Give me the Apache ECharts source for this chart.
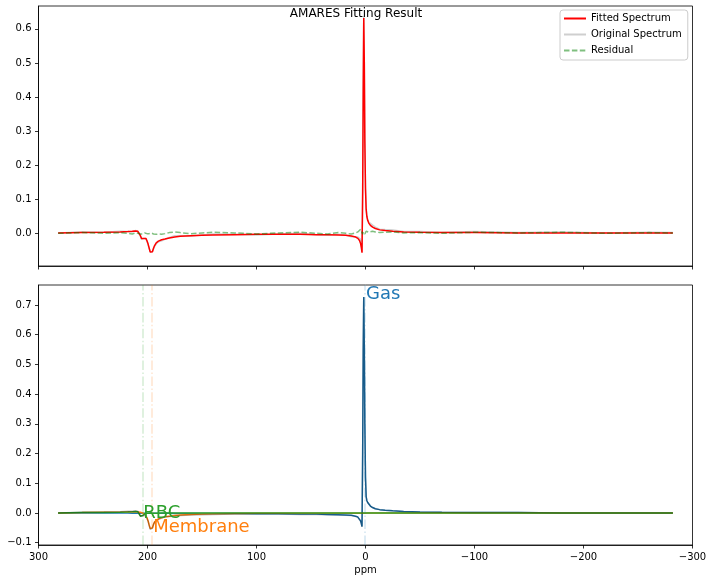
<!DOCTYPE html>
<html>
<head>
<meta charset="utf-8">
<script src="https://cdn.jsdelivr.net/npm/echarts@6/dist/echarts.min.js"></script>
<style>
html,body{margin:0;padding:0;background:#fff;}
#chart{width:712px;height:582px;}
</style>
</head>
<body>
<div id="chart"></div>
<script>
// ---- data ----
const ppm = [282, 260, 240, 225, 218, 214, 211, 209,
  207.5, 206.5, 205.5, 204.5, 203.5, 202.5, 201.5, 200.5,
  199.5, 198.5, 197.5, 196.5, 195.5, 194.5, 193.5, 192,
  190, 187, 184, 180, 175, 170, 160, 150,
  140, 120, 100, 80, 60, 45, 35, 25,
  18, 13, 9, 7, 5.5, 4.5, 3.8, 3.2,
  2.6, 2.1, 1.6, 1.1, 0.6, 0, -0.6, -1.2,
  -2, -3, -4.5, -6.5, -9, -13, -18, -25,
  -35, -50, -70, -100, -140, -180, -220, -260, -282];

const fitted = [0.001, 0.002, 0.003, 0.004, 0.005, 0.006, 0.007, 0.006,
  0.001, -0.007, -0.015, -0.018, -0.015, -0.013, -0.015, -0.022,
  -0.031, -0.043, -0.055, -0.059, -0.054, -0.044, -0.036, -0.028,
  -0.023, -0.019, -0.017, -0.014, -0.011, -0.009, -0.007, -0.006,
  -0.005, -0.004, -0.003, -0.003, -0.003, -0.004, -0.004, -0.005,
  -0.006, -0.008, -0.011, -0.015, -0.021, -0.030, -0.042, -0.057,
  0.12, 0.42, 0.632, 0.50, 0.27, 0.13, 0.07, 0.05,
  0.038, 0.03, 0.023, 0.018, 0.014, 0.010, 0.008, 0.006,
  0.004, 0.003, 0.002, 0.002, 0.001, 0.001, 0.001, 0.001, 0.001];

const original = [0.001, 0.004, 0.003, 0.006, 0.005, 0.004, 0.008, 0.006,
  0.000, -0.009, -0.018, -0.020, -0.015, -0.012, -0.015, -0.023,
  -0.033, -0.044, -0.055, -0.058, -0.054, -0.046, -0.039, -0.031,
  -0.025, -0.022, -0.018, -0.012, -0.007, -0.007, -0.008, -0.005,
  -0.002, -0.003, -0.005, -0.002, 0.000, -0.004, -0.006, -0.003,
  -0.006, -0.010, -0.010, -0.011, -0.013, -0.018, -0.036, -0.055,
  0.117, 0.424, 0.638, 0.502, 0.268, 0.133, 0.076, 0.054,
  0.040, 0.033, 0.028, 0.024, 0.018, 0.012, 0.011, 0.010,
  0.005, 0.005, 0.002, 0.005, 0.002, 0.004, 0.001, 0.003, 0.002];

const residual = [0.000, 0.002, 0.000, 0.002, 0.000, -0.002, 0.001, 0.000,
  -0.001, -0.002, -0.003, -0.002, 0.000, 0.001, 0.000, -0.001,
  -0.002, -0.001, 0.000, 0.001, 0.000, -0.002, -0.003, -0.003,
  -0.002, -0.003, -0.001, 0.002, 0.004, 0.002, -0.001, 0.001,
  0.003, 0.001, -0.002, 0.001, 0.003, 0.000, -0.002, 0.002,
  0.000, -0.002, 0.001, 0.004, 0.008, 0.012, 0.006, 0.002,
  -0.003, 0.004, 0.006, 0.002, -0.002, 0.003, 0.006, 0.004,
  0.002, 0.003, 0.005, 0.006, 0.004, 0.002, 0.003, 0.004,
  0.001, 0.002, 0.000, 0.003, 0.001, 0.003, 0.000, 0.002, 0.001];

const gas = [0.000, 0.000, 0.000, 0.000, 0.000, -0.001, -0.001, -0.001,
  -0.001, -0.001, -0.001, -0.001, -0.001, -0.001, -0.001, -0.001,
  -0.001, -0.001, -0.001, -0.001, -0.001, -0.001, -0.001, -0.001,
  -0.001, -0.001, -0.001, -0.001, -0.002, -0.002, -0.002, -0.002,
  -0.002, -0.002, -0.003, -0.003, -0.004, -0.004, -0.005, -0.006,
  -0.007, -0.008, -0.011, -0.014, -0.019, -0.027, -0.036, -0.046,
  0.20, 0.55, 0.727, 0.55, 0.30, 0.12, 0.055, 0.042,
  0.035, 0.029, 0.023, 0.018, 0.014, 0.011, 0.009, 0.007,
  0.005, 0.003, 0.002, 0.001, 0.001, 0.000, 0.000, 0.000, 0.000];

const rbc = [0.000, 0.001, 0.001, 0.002, 0.003, 0.004, 0.005, 0.004,
  -0.002, -0.011, -0.014, -0.009, -0.004, -0.002, -0.001, -0.001,
  -0.001, -0.001, -0.001, -0.001, -0.001, -0.001, -0.001, -0.001,
  -0.001, 0.000, 0.000, 0.000, 0.000, 0.000, 0.000, 0.000,
  0.000, 0.000, 0.000, 0.000, 0.000, 0.000, 0.000, 0.000,
  0.000, 0.000, 0.000, 0.000, 0.000, 0.000, 0.000, 0.000,
  0.000, 0.000, 0.000, 0.000, 0.000, 0.000, 0.000, 0.000,
  0.000, 0.000, 0.000, 0.000, 0.000, 0.000, 0.000, 0.000,
  0.000, 0.000, 0.000, 0.000, 0.000, 0.000, 0.000, 0.000, 0.000];

const membrane = [0.000, 0.001, 0.002, 0.002, 0.003, 0.003, 0.003, 0.003,
  0.003, 0.002, 0.001, 0.000, -0.002, -0.005, -0.009, -0.016,
  -0.026, -0.040, -0.053, -0.058, -0.050, -0.038, -0.030, -0.024,
  -0.020, -0.016, -0.013, -0.011, -0.009, -0.007, -0.005, -0.004,
  -0.003, -0.002, -0.001, -0.001, -0.001, -0.001, -0.001, -0.001,
  -0.001, -0.001, -0.001, -0.001, -0.001, -0.001, -0.001, -0.001,
  -0.001, -0.001, -0.001, -0.001, -0.001, -0.001, 0.000, 0.000,
  0.000, 0.000, 0.000, 0.000, 0.000, 0.000, 0.000, 0.000,
  0.000, 0.000, 0.000, 0.000, 0.000, 0.000, 0.000, 0.000, 0.000];

const totalFit = [0.000, 0.002, 0.003, 0.004, 0.006, 0.006, 0.007, 0.006,
  0.000, -0.010, -0.014, -0.010, -0.007, -0.008, -0.011, -0.018,
  -0.028, -0.042, -0.055, -0.060, -0.052, -0.040, -0.032, -0.026,
  -0.022, -0.017, -0.014, -0.012, -0.011, -0.009, -0.007, -0.006,
  -0.005, -0.004, -0.004, -0.004, -0.005, -0.005, -0.006, -0.007,
  -0.008, -0.009, -0.012, -0.015, -0.020, -0.028, -0.037, -0.047,
  0.199, 0.549, 0.726, 0.549, 0.299, 0.119, 0.055, 0.042,
  0.035, 0.029, 0.023, 0.018, 0.014, 0.011, 0.009, 0.007,
  0.005, 0.003, 0.002, 0.001, 0.001, 0.000, 0.000, 0.000, 0.000];

// component names, centre frequencies (ppm) and label heights
const compNames = ['Gas', 'RBC', 'Membrane'];
const compPpm = [0.5, 204.8, 195.7];
const compLabelY = [0.727, -0.013, -0.058];
const compColors = ['#1f77b4', '#2ca02c', '#ff7f0e'];

const topTicks = [0.0, 0.1, 0.2, 0.3, 0.4, 0.5, 0.6];
const bottomTicks = [-0.1, 0.0, 0.1, 0.2, 0.3, 0.4, 0.5, 0.6, 0.7];
const xTicks = [300, 200, 100, 0, -100, -200, -300];

// ---- chart ----
const pair = arr => ppm.map((p, i) => [p, arr[i]]);
const FONT = 'DejaVu Sans';
const minus = v => (v < 0 ? '\u2212' + Math.abs(v) : String(v));
const yFmt = v => { const s = Math.abs(v).toFixed(1); return v < -1e-9 ? '\u2212' + s : s; };

const chart = echarts.init(document.getElementById('chart'), null, {renderer: 'canvas'});

const axisCommon = {
  axisLine: {show: true, onZero: false, lineStyle: {color: '#000', width: 0.8}},
  axisTick: {show: true, length: 3.5, lineStyle: {color: '#000', width: 0.8}},
  splitLine: {show: false},
};

function xAxis(gi, showLabel) {
  return Object.assign({}, axisCommon, {
    type: 'value', gridIndex: gi, inverse: true, min: -300, max: 300, interval: 100,
    axisTick: Object.assign({}, axisCommon.axisTick, {customValues: xTicks}),
    axisLabel: {show: showLabel, customValues: xTicks, formatter: minus, color: '#000',
      fontFamily: FONT, fontSize: 10, margin: 7},
    name: showLabel ? 'ppm' : '', nameLocation: 'middle', nameGap: 20,
    nameTextStyle: {color: '#000', fontFamily: FONT, fontSize: 10}
  });
}
function yAxis(gi, mn, mx, ticks) {
  return Object.assign({}, axisCommon, {
    type: 'value', gridIndex: gi, min: mn, max: mx,
    axisTick: Object.assign({}, axisCommon.axisTick, {customValues: ticks}),
    axisLabel: {customValues: ticks, formatter: yFmt, color: '#000', fontFamily: FONT, fontSize: 10, margin: 7}
  });
}

const lineBase = {type: 'line', symbol: 'none', showSymbol: false, animation: false, smooth: false};

const series = [
  Object.assign({}, lineBase, {name: 'Original Spectrum', xAxisIndex: 0, yAxisIndex: 0, data: pair(original),
    lineStyle: {color: '#cfcfcf', width: 1.5}, itemStyle: {color: '#cfcfcf'}, z: 2}),
  Object.assign({}, lineBase, {name: 'Fitted Spectrum', xAxisIndex: 0, yAxisIndex: 0, data: pair(fitted),
    lineStyle: {color: '#ff0000', width: 1.5}, itemStyle: {color: '#ff0000'}, z: 3}),
  Object.assign({}, lineBase, {name: 'Residual', xAxisIndex: 0, yAxisIndex: 0, data: pair(residual),
    lineStyle: {color: 'rgba(0,128,0,0.5)', width: 1.5, type: [5.5, 2.4]}, itemStyle: {color: 'rgba(0,128,0,0.5)'}, z: 4}),
  Object.assign({}, lineBase, {name: 'Gas comp', xAxisIndex: 1, yAxisIndex: 1, data: pair(gas),
    lineStyle: {color: compColors[0], width: 1.5}, z: 2}),
  Object.assign({}, lineBase, {name: 'Membrane comp', xAxisIndex: 1, yAxisIndex: 1, data: pair(membrane),
    lineStyle: {color: compColors[2], width: 1.5}, z: 2}),
  Object.assign({}, lineBase, {name: 'RBC comp', xAxisIndex: 1, yAxisIndex: 1, data: pair(rbc),
    lineStyle: {color: compColors[1], width: 1.5}, z: 2}),
  Object.assign({}, lineBase, {name: 'Total', xAxisIndex: 1, yAxisIndex: 1, data: pair(totalFit),
    lineStyle: {color: 'rgba(0,0,0,0.25)', width: 1.5}, z: 3}),
];

compNames.forEach((nm, i) => {
  series.push({
    type: 'scatter', name: nm + ' label', xAxisIndex: 1, yAxisIndex: 1, animation: false,
    symbol: 'circle', symbolSize: 1, itemStyle: {color: 'rgba(0,0,0,0)'}, silent: true, z: 5,
    data: [[compPpm[i], compLabelY[i]]],
    label: {show: true, formatter: nm, position: [0, 0], align: 'left', verticalAlign: 'bottom',
      offset: [1.5, 6.5], color: compColors[i], opacity: 1, textBorderWidth: 0, textShadowBlur: 0,
      fontFamily: FONT, fontSize: 18},
    emphasis: {disabled: true},
    markLine: {silent: true, symbol: 'none', animation: false, label: {show: false},
      lineStyle: {color: compColors[i], opacity: 0.2, width: 1.5, type: [9.6, 2.4, 1.5, 2.4]},
      data: [{xAxis: compPpm[i]}]}
  });
});

chart.setOption({
  animation: false,
  backgroundColor: '#fff',
  textStyle: {fontFamily: FONT},
  title: {text: 'AMARES Fitting Result', left: 'center', top: 8,
    textStyle: {fontFamily: FONT, fontSize: 12, fontWeight: 'normal', color: '#000'}, padding: 0},
  legend: {
    data: ['Fitted Spectrum', 'Original Spectrum', 'Residual'],
    orient: 'vertical', left: 560, top: 10,
    padding: [3, 6, 4, 3], itemGap: 5, itemWidth: 22, itemHeight: 11,
    itemStyle: {opacity: 0, borderWidth: 0},
    backgroundColor: 'rgba(255,255,255,0.8)', borderColor: '#cccccc', borderWidth: 1, borderRadius: 3,
    textStyle: {fontFamily: FONT, fontSize: 10, color: '#000', lineHeight: 11},
    selectedMode: false
  },
  grid: [
    {left: 38.5, right: 19.5, top: 6, height: 260, show: true, borderColor: '#000', borderWidth: 0.8, backgroundColor: 'transparent'},
    {left: 38.5, right: 19.5, top: 285, height: 260, show: true, borderColor: '#000', borderWidth: 0.8, backgroundColor: 'transparent'}
  ],
  xAxis: [xAxis(0, false), xAxis(1, true)],
  yAxis: [yAxis(0, -0.096, 0.667, topTicks), yAxis(1, -0.108, 0.767, bottomTicks)],
  series: series
});
</script>
</body>
</html>
